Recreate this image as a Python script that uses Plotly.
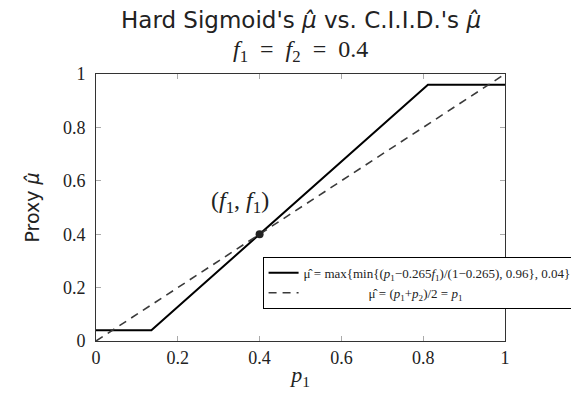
import plotly.graph_objects as go

# Data
hs_p1 = [0.0, 0.1354, 0.8116, 1.0]
hs_mu = [0.04, 0.04, 0.96, 0.96]
ciid_p1 = [0.0, 1.0]
ciid_mu = [0.0, 1.0]
point_x = [0.4]
point_y = [0.4]
ticks = [0, 0.2, 0.4, 0.6, 0.8, 1]
tick_labels = ["0", "0.2", "0.4", "0.6", "0.8", "1"]

serif = "Liberation Serif, DejaVu Serif, serif"
sans = "DejaVu Sans, Lato, sans-serif"

fig = go.Figure()
fig.add_trace(go.Scatter(
    x=hs_p1, y=hs_mu, mode="lines",
    line=dict(color="black", width=2),
    name="μ̂ = max{min{(<i>p</i><sub>1</sub>−0.265<i>f</i><sub>1</sub>)/(1−0.265), 0.96}, 0.04}",
))
fig.add_trace(go.Scatter(
    x=ciid_p1, y=ciid_mu, mode="lines",
    line=dict(color="#3a3a3a", width=1.6, dash="8px,6px"),
    name="                    μ̂ = (<i>p</i><sub>1</sub>+<i>p</i><sub>2</sub>)/2 = <i>p</i><sub>1</sub>",
))
fig.add_trace(go.Scatter(
    x=point_x, y=point_y, mode="markers",
    marker=dict(color="#222", size=8), showlegend=False,
))

axis_common = dict(
    range=[0, 1], tickvals=ticks, ticktext=tick_labels,
    ticks="inside", ticklen=5, tickcolor="#aaa", tickwidth=1,
    showgrid=False, zeroline=False, showline=True, linecolor="#333",
    linewidth=1, mirror="ticks",
    tickfont=dict(family=serif, size=18, color="#222"),
)
fig.update_xaxes(**axis_common,
                 title=dict(text="<i>p</i><sub>1</sub>", font=dict(family=serif, size=22, color="#222"), standoff=0))
fig.update_yaxes(**axis_common, ticklabelstandoff=6,
                 title=dict(text="Proxy <i>μ̂</i>", font=dict(family=sans, size=19, color="#222"), standoff=18))

fig.add_annotation(x=0.5, y=1, xref="paper", yref="paper", yshift=54,
                   text="Hard Sigmoid's <i>μ̂</i> vs. C.I.I.D.'s <i>μ̂</i>", showarrow=False,
                   font=dict(family=sans, size=23, color="#222"), yanchor="middle")
fig.add_annotation(x=0.5, y=1, xref="paper", yref="paper", yshift=23,
                   text="<i>f</i><sub>1</sub>  =  <i>f</i><sub>2</sub>  =  0.4", showarrow=False,
                   font=dict(family=serif, size=24, color="#222"), yanchor="middle")
fig.add_annotation(x=0.352, y=0.52, text="(<i>f</i><sub>1</sub>, <i>f</i><sub>1</sub>)", showarrow=False,
                   font=dict(family=serif, size=24, color="#222"))

fig.update_layout(
    width=571, height=385,
    margin=dict(l=88, r=74, t=66, b=52, autoexpand=False),
    plot_bgcolor="white", paper_bgcolor="white",
    legend=dict(x=1.175, y=0.315, xanchor="right", yanchor="top",
                bordercolor="black", borderwidth=1, bgcolor="white",
                font=dict(family=serif, size=13, color="#222"),
                tracegroupgap=0, itemwidth=30),
)
fig.write_html("out.html")
